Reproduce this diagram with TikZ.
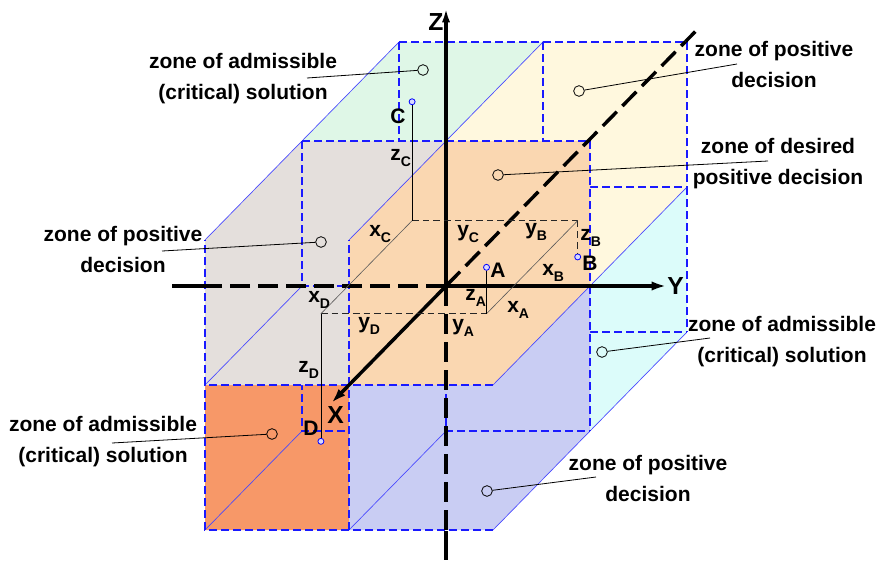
\documentclass[tikz,border=0pt]{standalone}
\usepackage{fontspec}
\setmainfont{Liberation Sans}
\usepackage{xcolor}
\usepackage{tikz}
\usetikzlibrary{arrows.meta}
\definecolor{mint}{HTML}{DFF7E7}
\definecolor{cream}{HTML}{FFF8DE}
\definecolor{peach}{HTML}{FAD7B1}
\definecolor{stone}{HTML}{E4DFDC}
\definecolor{aqua}{HTML}{DCFCFA}
\definecolor{salmon}{HTML}{F79868}
\definecolor{lilac}{HTML}{C9CDF3}
\definecolor{edgeblue}{HTML}{1A1AFF}
\newcommand{\ix}[2]{#1\raisebox{-4.5pt}{\fontsize{10.5}{10.5}\selectfont #2}}

\begin{document}
\begin{tikzpicture}[x=0.75pt,y=-0.75pt,
  boxedge/.style={edgeblue,line width=0.85pt,dash pattern=on 6pt off 3pt},
  boxslant/.style={edgeblue!80,line width=0.5pt},
  axisline/.style={line width=2.6pt},
  axisback/.style={line width=2.6pt,dash pattern=on 15pt off 6pt},
  guide/.style={black!85,line width=0.65pt,dash pattern=on 5pt off 3pt},
  trace/.style={black!65,line width=0.45pt},
  drop/.style={black,line width=0.55pt},
  pointdot/.style={circle,draw=blue,fill=blue!15,line width=0.6pt,minimum size=4.5pt,inner sep=0pt},
  ring/.style={circle,draw,line width=0.6pt,minimum size=8pt,inner sep=0pt},
  leader/.style={line width=0.6pt},
  zonetext/.style={align=center,font=\fontsize{15.75}{23.25}\selectfont\bfseries},
  coordtag/.style={inner sep=0pt,anchor=base west,font=\fontsize{15.75}{18}\selectfont\bfseries},
  axistag/.style={inner sep=0pt,anchor=base west,font=\fontsize{18.5}{20}\selectfont\bfseries}]
  \useasboundingbox (0,0) rectangle (877,561);
  \begin{scope}[shift={(446,286)},x={(-72.75pt,-74.25pt)},y={(108pt,0pt)},z={(0pt,108.75pt)}]
    % zones, back to front
    \foreach \col/\X/\Y/\Z in {aqua/-1/0/-1,mint/-1/-1/0,cream/-1/0/0,salmon/0/-1/-1,
                               stone/0/-1/0,lilac/0/0/-1,peach/0/0/0} {
      \fill[\col] (\X+1,\Y,\Z+1) -- (\X,\Y,\Z+1) -- (\X,\Y+1,\Z+1) -- (\X,\Y+1,\Z)
        -- (\X+1,\Y+1,\Z) -- (\X+1,\Y,\Z) -- cycle;
      \draw[boxslant] (\X+1,\Y,\Z+1) -- (\X,\Y,\Z+1) (\X,\Y+1,\Z) -- (\X+1,\Y+1,\Z)
        (\X,\Y,\Z) -- (\X+1,\Y,\Z);
      \draw[boxedge] (\X,\Y,\Z+1) -- (\X,\Y+1,\Z+1) -- (\X,\Y+1,\Z)
        (\X+1,\Y+1,\Z) -- (\X+1,\Y,\Z) -- (\X+1,\Y,\Z+1)
        (\X,\Y,\Z+1) -- (\X,\Y,\Z) -- (\X,\Y+1,\Z);
    }
    % axes
    \coordinate (O) at (0,0,0);
    \coordinate (Xtip) at (1.18,0,0);
    \coordinate (Xin) at (-2.47,0,0);
    \coordinate (Xend) at (-2.57,0,0);
    \coordinate (Ytip) at (0,1.53,0);
    \coordinate (Yin) at (0,-1.69,0);
    \coordinate (Yend) at (0,-1.9,0);
    \coordinate (Ztip) at (0,0,1.92);
    \coordinate (Zin) at (0,0,-1.69);
    \coordinate (Zend) at (0,0,-1.89);
    \draw[axisback] (O) -- (Xin);
    \draw[axisline] (Xin) -- (Xend);
    \draw[axisline,-{Latex[length=11pt,width=7pt]}] (O) -- (Xtip);
    \draw[axisback] (O) -- (Yin);
    \draw[axisline] (Yin) -- (Yend);
    \draw[axisline,-{Latex[length=11pt,width=7pt]}] (O) -- (Ytip);
    \draw[axisback] (O) -- (Zin);
    \draw[axisline] (Zin) -- (Zend);
    \draw[axisline,-{Latex[length=11pt,width=6pt]}] (O) -- (Ztip);
    % points and their coordinates
    \coordinate (A0) at (0.28,0.47,0);
    \coordinate (B0) at (-0.66,0.47,0);
    \coordinate (C0) at (-0.66,-0.68,0);
    \coordinate (D0) at (0.28,-0.68,0);
    \draw[guide] (D0) -- (A0);
    \draw[guide] (C0) -- (B0);
    \draw[trace] (D0) -- (C0);
    \draw[trace] (A0) -- (B0);
    \node[pointdot] (A) at (0.28,0.47,0.32) {};
    \node[pointdot] (B) at (-0.66,0.47,-0.25) {};
    \node[pointdot] (C) at (-0.66,-0.68,0.82) {};
    \node[pointdot] (D) at (0.28,-0.68,-0.88) {};
    \draw[drop] (A) -- (A0);
    \draw[guide] (B0) -- (B);
    \draw[drop] (C) -- (C0);
    \draw[drop] (D0) -- (D);
  \end{scope}
  \node[axistag] (Xlbl) at (327,423) {X};
  \node[axistag] (Ylbl) at (667,294) {Y};
  \node[axistag] (Zlbl) at (428,30) {Z};
  \node[coordtag] (Albl) at (490,277) {A};
  \node[coordtag] (Blbl) at (582,270) {B};
  \node[coordtag] (Clbl) at (390,123) {C};
  \node[coordtag] (Dlbl) at (303,435) {D};
  \node[coordtag] (xC) at (369,236) {\ix{x}{C}};
  \node[coordtag] (yC) at (457,236) {\ix{y}{C}};
  \node[coordtag] (yB) at (525,234) {\ix{y}{B}};
  \node[coordtag] (zB) at (580,240) {\ix{z}{B}};
  \node[coordtag] (xB) at (542,275) {\ix{x}{B}};
  \node[coordtag] (xA) at (507,312) {\ix{x}{A}};
  \node[coordtag] (zA) at (465,300) {\ix{z}{A}};
  \node[coordtag] (yA) at (452,330) {\ix{y}{A}};
  \node[coordtag] (yD) at (358,328) {\ix{y}{D}};
  \node[coordtag] (xD) at (308,302) {\ix{x}{D}};
  \node[coordtag] (zC) at (390,160) {\ix{z}{C}};
  \node[coordtag] (zD) at (298,372) {\ix{z}{D}};
  % zone captions
  \node[zonetext] (critA) at (243,79) {zone of admissible\\(critical) solution};
  \node[zonetext] (posA) at (774,64) {zone of positive\\decision};
  \node[zonetext] (desired) at (778,164) {zone of desired\\positive decision};
  \node[zonetext] (posB) at (123,249) {zone of positive\\decision};
  \node[zonetext] (critB) at (782,342) {zone of admissible\\(critical) solution};
  \node[zonetext] (critC) at (103,442) {zone of admissible\\(critical) solution};
  \node[zonetext] (posC) at (648,478) {zone of positive\\decision};
  \node[ring] (ringcritA) at (423,70) {};
  \node[ring] (ringposA) at (579,91) {};
  \node[ring] (ringdesired) at (498,175) {};
  \node[ring] (ringposB) at (321,242) {};
  \node[ring] (ringcritB) at (602,352) {};
  \node[ring] (ringcritC) at (272,434) {};
  \node[ring] (ringposC) at (487,491) {};
  \coordinate (endcritA) at (307,78);
  \coordinate (endposA) at (737,64);
  \coordinate (enddesired) at (768,161);
  \coordinate (endposB) at (162,251);
  \coordinate (endcritB) at (710,338);
  \coordinate (endcritC) at (112,443);
  \coordinate (endposC) at (596,477);
  \draw[leader] (endcritA) -- (ringcritA);
  \draw[leader] (endposA) -- (ringposA);
  \draw[leader] (enddesired) -- (ringdesired);
  \draw[leader] (endposB) -- (ringposB);
  \draw[leader] (endcritB) -- (ringcritB);
  \draw[leader] (endcritC) -- (ringcritC);
  \draw[leader] (endposC) -- (ringposC);
\end{tikzpicture}
\end{document}
